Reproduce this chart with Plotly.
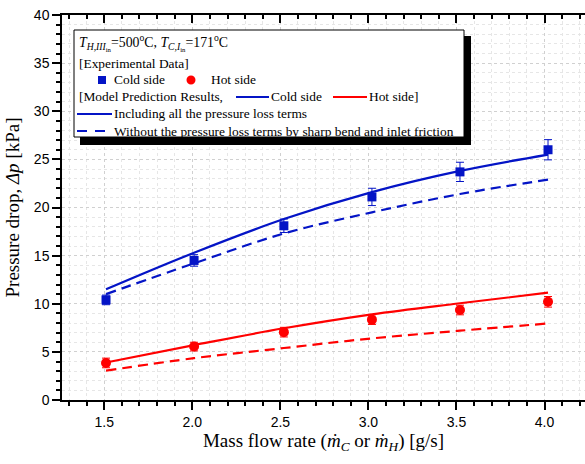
import plotly.graph_objects as go

# ---------------- data ----------------
flow_exp = [1.51, 2.01, 2.52, 3.02, 3.52, 4.02]
cold_exp = [10.4, 14.5, 18.1, 21.1, 23.7, 26.0]
cold_err = [0.5, 0.6, 0.7, 0.9, 1.0, 1.05]
hot_exp = [3.85, 5.55, 7.05, 8.35, 9.35, 10.2]
hot_err = [0.5, 0.45, 0.5, 0.5, 0.5, 0.55]

flow_model = [1.51, 2.01, 2.52, 3.02, 3.52, 4.02]
cold_model_full = [11.5, 15.3, 18.8, 21.6, 23.8, 25.5]
cold_model_nobend = [11.0, 14.2, 17.3, 19.5, 21.4, 22.9]
hot_model_full = [3.9, 5.7, 7.45, 8.9, 10.05, 11.15]
hot_model_nobend = [3.05, 4.35, 5.4, 6.4, 7.2, 7.95]

BLUE = "#0414C6"
RED = "#FF0000"
SERIF = "Liberation Serif, Times New Roman, serif"
SANS = "Liberation Sans, Arial, sans-serif"

W, H = 585, 464
ML, MR, MT, MB = 62, 0, 15, 64
PW, PH = W - ML - MR, H - MT - MB


def px(x):
    return (x - ML) / PW


def py(y):
    return (H - MB - y) / PH


fig = go.Figure()

fig.add_trace(go.Scatter(x=flow_model, y=cold_model_full, mode="lines", line=dict(color=BLUE, width=2.2, shape="spline"), showlegend=False))
fig.add_trace(go.Scatter(x=flow_model, y=cold_model_nobend, mode="lines", line=dict(color=BLUE, width=2.2, dash="10px,6px", shape="spline"), showlegend=False))
fig.add_trace(go.Scatter(x=flow_model, y=hot_model_full, mode="lines", line=dict(color=RED, width=2.2, shape="spline"), showlegend=False))
fig.add_trace(go.Scatter(x=flow_model, y=hot_model_nobend, mode="lines", line=dict(color=RED, width=2.2, dash="10px,6px", shape="spline"), showlegend=False))

fig.add_trace(go.Scatter(x=flow_exp, y=cold_exp, mode="markers",
                         marker=dict(symbol="square", size=9, color=BLUE),
                         error_y=dict(type="data", array=cold_err, color=BLUE, thickness=1, width=4),
                         showlegend=False))
fig.add_trace(go.Scatter(x=flow_exp, y=hot_exp, mode="markers",
                         marker=dict(symbol="circle", size=10, color=RED),
                         error_y=dict(type="data", array=hot_err, color=RED, thickness=1, width=4),
                         showlegend=False))

grid_major = "#d0d0d0"
grid_minor = "#e6e6e6"

fig.update_layout(
    width=W, height=H,
    margin=dict(l=ML, r=MR, t=MT, b=MB),
    paper_bgcolor="white", plot_bgcolor="white",
    xaxis=dict(range=[1.26, 4.23], dtick=0.5, tick0=1.5, tickformat=".1f",
               ticks="outside", ticklen=8, tickwidth=1.5, tickcolor="black",
               showline=True, linecolor="black", linewidth=1.5,
               showgrid=True, gridcolor=grid_major, griddash="dot", gridwidth=1,
               zeroline=False,
               minor=dict(dtick=0.1, tick0=1.5, ticks="outside", ticklen=4, tickwidth=1.5, tickcolor="black",
                          showgrid=True, gridcolor=grid_minor, griddash="dot"),
               tickfont=dict(family=SANS, size=14, color="black"),
               title=dict(text="Mass flow rate (<i>ṁ</i><sub><i>C</i></sub> or <i>ṁ</i><sub><i>H</i></sub>) [g/s]",
                          font=dict(family=SERIF, size=19, color="black"), standoff=5)),
    xaxis2=dict(range=[1.26, 4.23], overlaying="x", side="top", anchor="y", matches="x",
                dtick=0.5, tick0=1.5, ticks="inside", ticklen=8, tickwidth=1.5, tickcolor="black",
                showticklabels=False, showline=True, linecolor="black", linewidth=1.5,
                showgrid=False, zeroline=False,
                minor=dict(dtick=0.1, tick0=1.5, ticks="inside", ticklen=4, tickwidth=1.5, tickcolor="black")),
    yaxis=dict(range=[0, 40], dtick=5,
               ticks="outside", ticklen=8, tickwidth=1.5, tickcolor="black",
               showline=True, linecolor="black", linewidth=1.5,
               showgrid=True, gridcolor=grid_major, griddash="dot", gridwidth=1,
               zeroline=False,
               minor=dict(dtick=1, ticks="outside", ticklen=4, tickwidth=1.5, tickcolor="black",
                          showgrid=True, gridcolor=grid_minor, griddash="dot"),
               tickfont=dict(family=SANS, size=14, color="black"),
               title=dict(text="Pressure drop, <i>Δp</i> [kPa]",
                          font=dict(family=SERIF, size=19, color="black"), standoff=9)),
)

# invisible anchor trace so the top (mirror) axis is rendered
fig.add_trace(go.Scatter(x=[flow_exp[0]], y=[cold_exp[0]], xaxis="x2", mode="markers",
                         marker=dict(opacity=0), hoverinfo="skip", showlegend=False))

# ---------------- custom legend box ----------------
shapes = []
shapes.append(dict(type="rect", xref="paper", yref="paper", x0=px(80), x1=px(471), y0=py(145), y1=py(36),
                   fillcolor="black", line=dict(width=0), layer="above"))
shapes.append(dict(type="rect", xref="paper", yref="paper", x0=px(74), x1=px(464), y0=py(137), y1=py(30),
                   fillcolor="white", line=dict(color="black", width=1), layer="above"))
shapes.append(dict(type="rect", xref="paper", yref="paper", x0=px(98), x1=px(106), y0=py(84), y1=py(76),
                   fillcolor=BLUE, line=dict(width=0), layer="above"))
shapes.append(dict(type="circle", xref="paper", yref="paper", x0=px(186.5), x1=px(195.5), y0=py(84.5), y1=py(75.5),
                   fillcolor=RED, line=dict(width=0), layer="above"))


def hline(x0, x1, y, color, dash="solid"):
    shapes.append(dict(type="line", xref="paper", yref="paper", x0=px(x0), x1=px(x1), y0=py(y), y1=py(y),
                       line=dict(color=color, width=2, dash=dash), layer="above"))


hline(236, 269, 97, BLUE)
hline(333, 367, 97, RED)
hline(77, 112, 114, BLUE)
hline(77, 112, 131, BLUE, "10px,8px")

fig.update_layout(shapes=shapes)


def txt(x, y, s, size=13.4):
    fig.add_annotation(xref="paper", yref="paper", x=px(x), y=py(y), text=s, showarrow=False,
                       xanchor="left", yanchor="middle", font=dict(family=SERIF, size=size, color="black"))


txt(77, 42, "<i>T</i><sub><i>H,III</i><sub>in</sub></sub>=500<sup>o</sup>C, <i>T</i><sub><i>C,I</i><sub>in</sub></sub>=171<sup>o</sup>C", 13.8)
txt(77, 63, "[Experimental Data]")
txt(112, 80, "Cold side")
txt(209, 80, "Hot side")
txt(77, 97, "[Model Prediction Results,")
txt(269, 97, "Cold side")
txt(367, 97, "Hot side]")
txt(112, 114, "Including all the pressure loss terms")
txt(112, 131, "Without the pressure loss terms by sharp bend and inlet friction")

fig.write_html("out.html")
